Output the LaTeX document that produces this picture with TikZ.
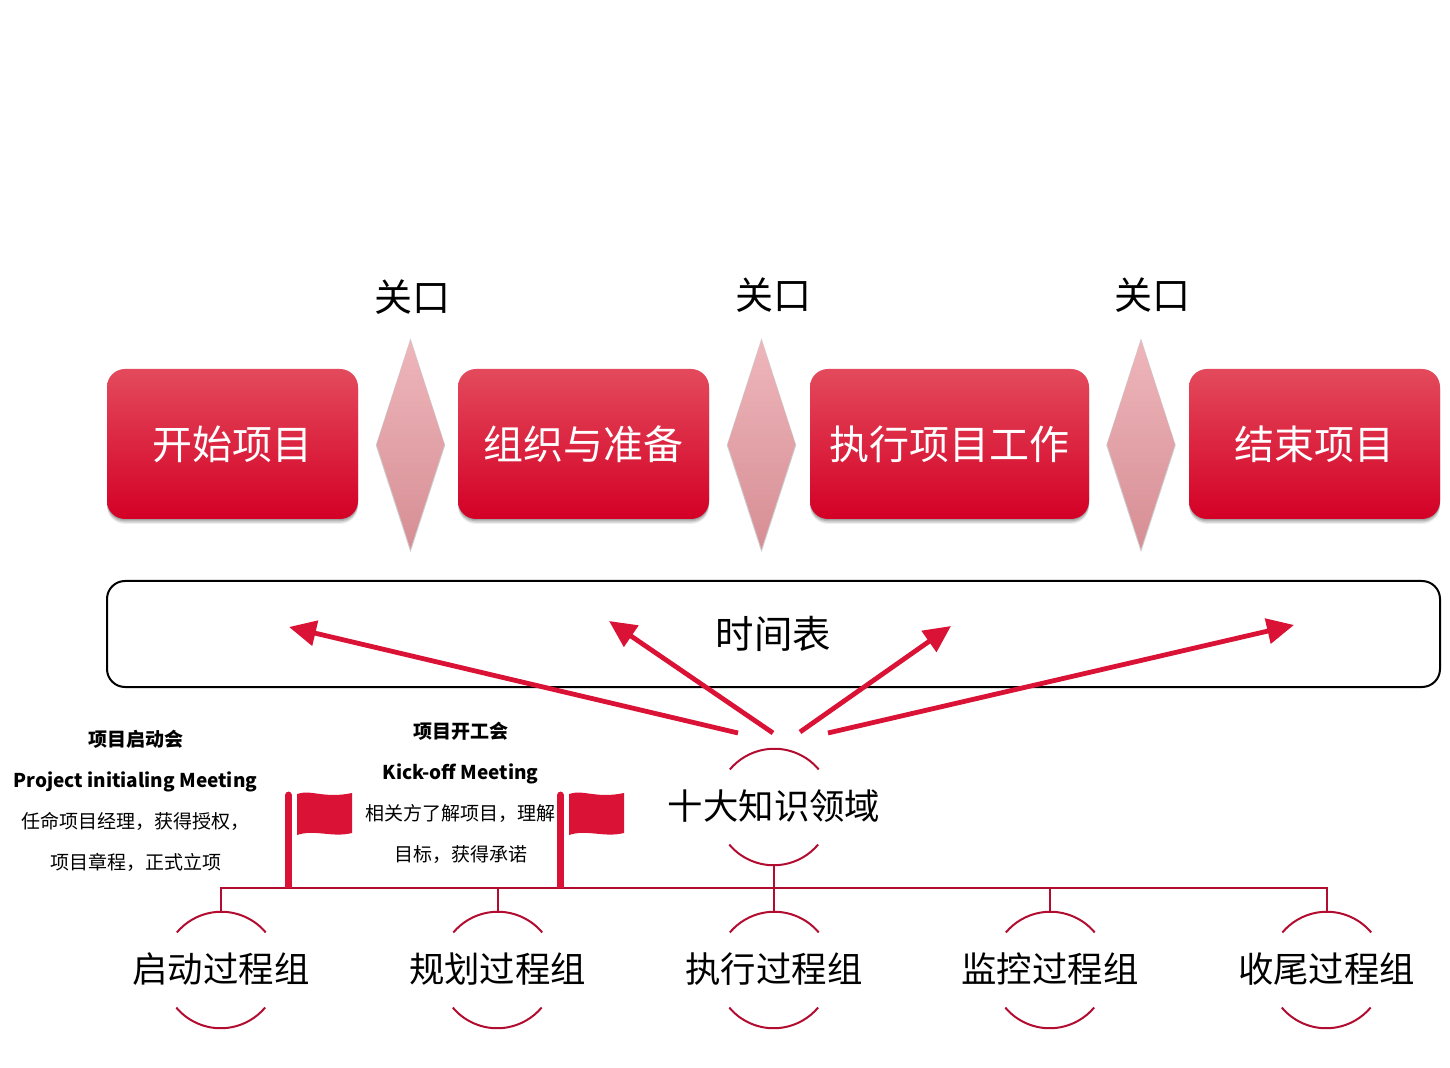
\documentclass[tikz,border=0pt]{standalone}
\usepackage{fontspec}
\setmainfont{Noto Sans CJK SC}
\usetikzlibrary{shapes.geometric,arrows.meta}
\definecolor{flagred}{HTML}{DA1236}
\definecolor{linered}{HTML}{B20C30}
\tikzset{
  softshadow/.style={
    preaction={fill=black,opacity=.12,transform canvas={yshift=-0.5pt}},
    preaction={fill=black,opacity=.12,transform canvas={yshift=-1.1pt}},
    preaction={fill=black,opacity=.12,transform canvas={yshift=-1.8pt}},
    preaction={fill=black,opacity=.07,transform canvas={yshift=-2.5pt}}},
  phasebox/.style={softshadow,rectangle,rounded corners=9pt,minimum height=75pt,inner sep=0pt,
    top color=boxtop,middle color=boxmid,bottom color=boxbot,text=white,
    font=\fontsize{20}{24}\selectfont},
  gate/.style={diamond,minimum width=34pt,minimum height=104.5pt,inner sep=0pt,
    preaction={draw=black,opacity=.2,line width=.8pt,transform canvas={yshift=-0.4pt}},
    top color=gatetop,middle color=gatemid,bottom color=gatebot},
  gatelabel/.style={font=\fontsize{19}{23}\selectfont},
  ring/.style={circle,minimum size=58pt,inner sep=0pt},
  ringtext/.style={label={[font=\fontsize{17.7}{21}\selectfont,inner sep=0pt,yshift=.4pt]center:#1}},
  arcline/.style={draw=linered,line width=1pt},
  busline/.style={draw=linered,line width=1pt},
  bigarrow/.style={draw=flagred,line width=2.4pt,-{Triangle[length=13.5pt,width=12.5pt]}},
  note/.style={align=center,font=\fontsize{9.5}{20.5}\selectfont,inner sep=0pt},
  pole/.style={draw=flagred,line width=3.4pt,line cap=butt},
  flag/.style={fill=flagred,draw=none}
}
\definecolor{boxtop}{HTML}{E34A5C}
\definecolor{boxmid}{HTML}{E00A30}
\definecolor{boxbot}{HTML}{D40026}
\definecolor{gatetop}{HTML}{EEB6BB}
\definecolor{gatemid}{HTML}{ECA9AE}
\definecolor{gatebot}{HTML}{D68E94}
\newcommand{\goodflag}[1]{%
  \fill[flag,shift={(#1,0)}] (0,794) .. controls (14,789) and (27,799) .. (55,793)
    -- (55,833) .. controls (35,838) and (18,829) .. (0,835) -- cycle;}
\begin{document}
\begin{tikzpicture}[x=.5pt,y=-.5pt]
\useasboundingbox (0,0) rectangle (1450,1068);
% gate labels
\node[gatelabel] (l1) at (412,297) {关口};
\node[gatelabel] (l2) at (773,295) {关口};
\node[gatelabel] (l3) at (1152,295) {关口};
% phases
\node[phasebox,minimum width=125.5pt] (p1) at (232.5,444) {开始项目};
\node[phasebox,minimum width=125.5pt] (p2) at (583.5,444) {组织与准备};
\node[phasebox,minimum width=139.5pt] (p3) at (949.5,444) {执行项目工作};
\node[phasebox,minimum width=125.5pt] (p4) at (1314.5,444) {结束项目};
\node[gate] (d1) at (410.5,444.5) {};
\node[gate] (d2) at (761.5,444.5) {};
\node[gate] (d3) at (1141,444.5) {};
% timetable
\node[draw=black,line width=1pt,rounded corners=9pt,minimum width=666.5pt,minimum height=53pt,inner sep=0pt] (tt) at (773.5,634) {};
\node[font=\fontsize{19.2}{23}\selectfont] (ttl) at (773.5,634) {时间表};
% arrows
\coordinate (s1) at (738,733);
\coordinate (s2) at (773,733);
\coordinate (s3) at (800,732);
\coordinate (s4) at (828,733);
\coordinate (e1) at (289,627);
\coordinate (e2) at (609,621);
\coordinate (e3) at (951,626);
\coordinate (e4) at (1294,625);
\draw[bigarrow] (s1) -- (e1);
\draw[bigarrow] (s2) -- (e2);
\draw[bigarrow] (s3) -- (e3);
\draw[bigarrow] (s4) -- (e4);
% knowledge areas and process groups
\node[ring,ringtext={十大知识领域}] (k) at (774,807) {};
\node[ring,ringtext={启动过程组}] (g1) at (221,970) {};
\node[ring,ringtext={规划过程组}] (g2) at (497.5,970) {};
\node[ring,ringtext={执行过程组}] (g3) at (774,970) {};
\node[ring,ringtext={监控过程组}] (g4) at (1050,970) {};
\node[ring,ringtext={收尾过程组}] (g5) at (1326.5,970) {};
\foreach \n in {k,g1,g2,g3,g4,g5}{
  \draw[arcline] (\n.40) arc[start angle=40,end angle=140,radius=29pt];
  \draw[arcline] (\n.-140) arc[start angle=-140,end angle=-40,radius=29pt];
}
\coordinate (bus) at (774,888);
\draw[busline] (k.south) -- (g3.north);
\draw[busline] (g1.north) |- (bus);
\draw[busline] (g2.north) |- (bus);
\draw[busline] (g4.north) |- (bus);
\draw[busline] (g5.north) |- (bus);
% flags
\coordinate (ft1) at (288.5,795);
\coordinate (fb1) at (288.5,888);
\coordinate (ft2) at (560.5,795);
\coordinate (fb2) at (560.5,888);
\draw[pole] (fb1) -- (ft1);
\draw[pole] (fb2) -- (ft2);
\fill[flagred] (ft1) circle[radius=1.7pt];
\fill[flagred] (ft2) circle[radius=1.7pt];
\goodflag{297}
\goodflag{569}
% notes
\node[note] (n1) at (135.5,800.5) {\textbf{项目启动会}\\\textbf{Project initialing Meeting}\\任命项目经理，获得授权，\\项目章程，正式立项};
\node[note] (n2) at (460.5,792.5) {\textbf{项目开工会}\\\textbf{Kick-off Meeting}\\相关方了解项目，理解\\目标，获得承诺};
\end{tikzpicture}
\end{document}
